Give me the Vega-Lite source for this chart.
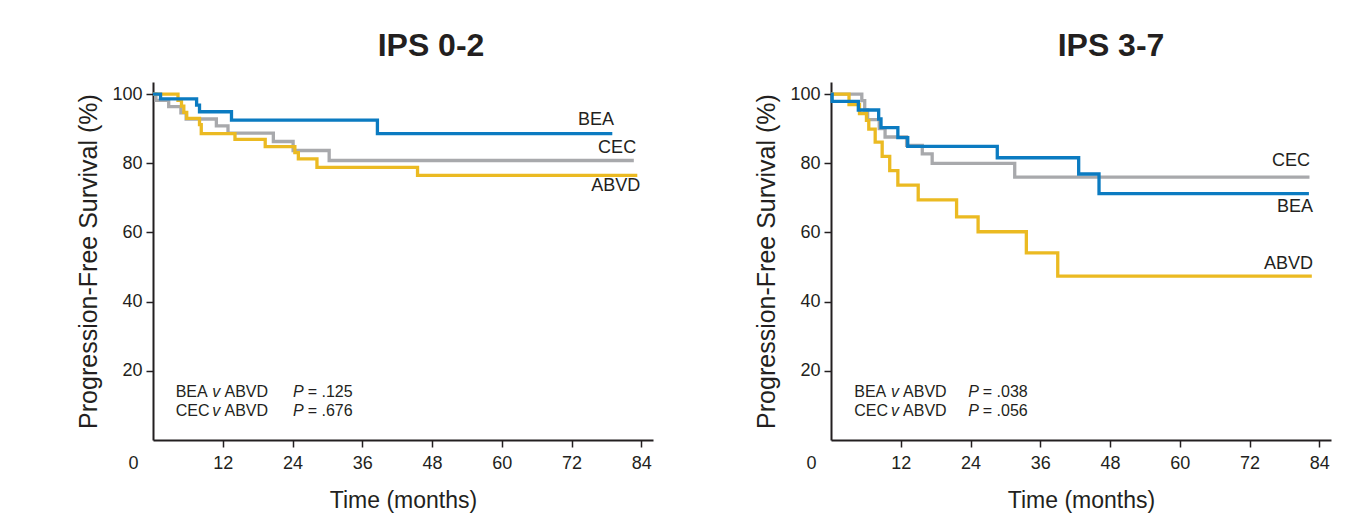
{
  "$schema": "https://vega.github.io/schema/vega-lite/v6.json",
  "background": "white",
  "padding": {"left": 76, "top": 30, "right": 5, "bottom": 5},
  "spacing": 101,
  "config": {
    "view": {"stroke": null},
    "font": "Liberation Sans",
    "axis": {
      "grid": false,
      "domainColor": "#231f20",
      "domainWidth": 2,
      "tickColor": "#231f20",
      "tickWidth": 1.5,
      "tickSize": 7,
      "labelColor": "#231f20",
      "labelFontSize": 18,
      "labelFont": "Liberation Sans",
      "titleFont": "Liberation Sans",
      "titleFontWeight": "normal",
      "titleColor": "#231f20"
    }
  },
  "datasets": {
    "curves": [
      {"panel": "IPS 0-2", "arm": "CEC", "month": 0, "pfs": 100},
      {"panel": "IPS 0-2", "arm": "CEC", "month": 0.5, "pfs": 98.2},
      {"panel": "IPS 0-2", "arm": "CEC", "month": 2.7, "pfs": 96.4},
      {"panel": "IPS 0-2", "arm": "CEC", "month": 4.8, "pfs": 94.6},
      {"panel": "IPS 0-2", "arm": "CEC", "month": 5.7, "pfs": 92.8},
      {"panel": "IPS 0-2", "arm": "CEC", "month": 10.9, "pfs": 90.8},
      {"panel": "IPS 0-2", "arm": "CEC", "month": 12.9, "pfs": 88.7},
      {"panel": "IPS 0-2", "arm": "CEC", "month": 20.7, "pfs": 86.3},
      {"panel": "IPS 0-2", "arm": "CEC", "month": 24.1, "pfs": 83.7},
      {"panel": "IPS 0-2", "arm": "CEC", "month": 30.3, "pfs": 80.8},
      {"panel": "IPS 0-2", "arm": "CEC", "month": 82.7, "pfs": 80.8},
      {"panel": "IPS 0-2", "arm": "ABVD", "month": 0, "pfs": 100},
      {"panel": "IPS 0-2", "arm": "ABVD", "month": 4.3, "pfs": 98.2},
      {"panel": "IPS 0-2", "arm": "ABVD", "month": 4.9, "pfs": 96.5},
      {"panel": "IPS 0-2", "arm": "ABVD", "month": 5.3, "pfs": 94.7},
      {"panel": "IPS 0-2", "arm": "ABVD", "month": 5.8, "pfs": 93.0},
      {"panel": "IPS 0-2", "arm": "ABVD", "month": 8.0, "pfs": 91.2},
      {"panel": "IPS 0-2", "arm": "ABVD", "month": 8.3, "pfs": 88.6},
      {"panel": "IPS 0-2", "arm": "ABVD", "month": 14.1, "pfs": 86.9},
      {"panel": "IPS 0-2", "arm": "ABVD", "month": 19.3, "pfs": 84.8},
      {"panel": "IPS 0-2", "arm": "ABVD", "month": 24.4, "pfs": 83.1},
      {"panel": "IPS 0-2", "arm": "ABVD", "month": 25.0, "pfs": 81.3},
      {"panel": "IPS 0-2", "arm": "ABVD", "month": 28.2, "pfs": 78.8},
      {"panel": "IPS 0-2", "arm": "ABVD", "month": 45.5, "pfs": 76.5},
      {"panel": "IPS 0-2", "arm": "ABVD", "month": 83.3, "pfs": 76.5},
      {"panel": "IPS 0-2", "arm": "BEA", "month": 0, "pfs": 100},
      {"panel": "IPS 0-2", "arm": "BEA", "month": 1.3, "pfs": 98.6},
      {"panel": "IPS 0-2", "arm": "BEA", "month": 7.5, "pfs": 96.8},
      {"panel": "IPS 0-2", "arm": "BEA", "month": 8.0, "pfs": 94.9},
      {"panel": "IPS 0-2", "arm": "BEA", "month": 13.5, "pfs": 92.5},
      {"panel": "IPS 0-2", "arm": "BEA", "month": 38.6, "pfs": 88.6},
      {"panel": "IPS 0-2", "arm": "BEA", "month": 79.0, "pfs": 88.6},
      {"panel": "IPS 3-7", "arm": "CEC", "month": 0, "pfs": 100},
      {"panel": "IPS 3-7", "arm": "CEC", "month": 5.3, "pfs": 98.1},
      {"panel": "IPS 3-7", "arm": "CEC", "month": 5.8, "pfs": 95.4},
      {"panel": "IPS 3-7", "arm": "CEC", "month": 6.3, "pfs": 92.6},
      {"panel": "IPS 3-7", "arm": "CEC", "month": 8.3, "pfs": 90.0},
      {"panel": "IPS 3-7", "arm": "CEC", "month": 9.3, "pfs": 87.6},
      {"panel": "IPS 3-7", "arm": "CEC", "month": 13.0, "pfs": 85.2},
      {"panel": "IPS 3-7", "arm": "CEC", "month": 15.7, "pfs": 82.7},
      {"panel": "IPS 3-7", "arm": "CEC", "month": 17.4, "pfs": 80.0},
      {"panel": "IPS 3-7", "arm": "CEC", "month": 31.6, "pfs": 76.0},
      {"panel": "IPS 3-7", "arm": "CEC", "month": 82.3, "pfs": 76.0},
      {"panel": "IPS 3-7", "arm": "ABVD", "month": 0, "pfs": 100},
      {"panel": "IPS 3-7", "arm": "ABVD", "month": 3.1, "pfs": 97.0},
      {"panel": "IPS 3-7", "arm": "ABVD", "month": 4.9, "pfs": 94.4},
      {"panel": "IPS 3-7", "arm": "ABVD", "month": 6.1, "pfs": 92.4},
      {"panel": "IPS 3-7", "arm": "ABVD", "month": 6.5, "pfs": 89.9},
      {"panel": "IPS 3-7", "arm": "ABVD", "month": 7.6, "pfs": 86.1},
      {"panel": "IPS 3-7", "arm": "ABVD", "month": 8.8, "pfs": 82.0},
      {"panel": "IPS 3-7", "arm": "ABVD", "month": 10.1, "pfs": 77.9},
      {"panel": "IPS 3-7", "arm": "ABVD", "month": 11.5, "pfs": 73.7},
      {"panel": "IPS 3-7", "arm": "ABVD", "month": 15.0, "pfs": 69.4},
      {"panel": "IPS 3-7", "arm": "ABVD", "month": 21.6, "pfs": 64.5},
      {"panel": "IPS 3-7", "arm": "ABVD", "month": 25.3, "pfs": 60.2},
      {"panel": "IPS 3-7", "arm": "ABVD", "month": 33.6, "pfs": 54.1},
      {"panel": "IPS 3-7", "arm": "ABVD", "month": 39.0, "pfs": 47.4},
      {"panel": "IPS 3-7", "arm": "ABVD", "month": 82.7, "pfs": 47.4},
      {"panel": "IPS 3-7", "arm": "BEA", "month": 0, "pfs": 100},
      {"panel": "IPS 3-7", "arm": "BEA", "month": 0.2, "pfs": 97.9},
      {"panel": "IPS 3-7", "arm": "BEA", "month": 4.7, "pfs": 95.4},
      {"panel": "IPS 3-7", "arm": "BEA", "month": 8.2, "pfs": 92.8},
      {"panel": "IPS 3-7", "arm": "BEA", "month": 8.6, "pfs": 90.3},
      {"panel": "IPS 3-7", "arm": "BEA", "month": 11.5, "pfs": 87.4},
      {"panel": "IPS 3-7", "arm": "BEA", "month": 13.2, "pfs": 84.9},
      {"panel": "IPS 3-7", "arm": "BEA", "month": 28.6, "pfs": 81.6},
      {"panel": "IPS 3-7", "arm": "BEA", "month": 42.6, "pfs": 76.9},
      {"panel": "IPS 3-7", "arm": "BEA", "month": 46.1, "pfs": 71.2},
      {"panel": "IPS 3-7", "arm": "BEA", "month": 82.2, "pfs": 71.2}
    ],
    "labels": [
      {"panel": "IPS 0-2", "arm": "BEA", "month": 79.3, "pfs": 92.6},
      {"panel": "IPS 0-2", "arm": "CEC", "month": 83.1, "pfs": 84.4},
      {"panel": "IPS 0-2", "arm": "ABVD", "month": 83.8, "pfs": 73.4},
      {"panel": "IPS 3-7", "arm": "CEC", "month": 82.4, "pfs": 80.8},
      {"panel": "IPS 3-7", "arm": "BEA", "month": 82.9, "pfs": 67.3},
      {"panel": "IPS 3-7", "arm": "ABVD", "month": 82.9, "pfs": 50.9}
    ],
    "notes": [
      {"panel": "IPS 0-2", "text": "BEA", "italic": false, "month": 3.9, "pfs": 14.0},
      {"panel": "IPS 0-2", "text": "v", "italic": true, "month": 10.2, "pfs": 14.0},
      {"panel": "IPS 0-2", "text": "ABVD", "italic": false, "month": 12.3, "pfs": 14.0},
      {"panel": "IPS 0-2", "text": "P", "italic": true, "month": 24.1, "pfs": 14.0},
      {"panel": "IPS 0-2", "text": "= .125", "italic": false, "month": 26.6, "pfs": 14.0},
      {"panel": "IPS 0-2", "text": "CEC", "italic": false, "month": 3.9, "pfs": 8.3},
      {"panel": "IPS 0-2", "text": "v", "italic": true, "month": 10.2, "pfs": 8.3},
      {"panel": "IPS 0-2", "text": "ABVD", "italic": false, "month": 12.3, "pfs": 8.3},
      {"panel": "IPS 0-2", "text": "P", "italic": true, "month": 24.1, "pfs": 8.3},
      {"panel": "IPS 0-2", "text": "= .676", "italic": false, "month": 26.6, "pfs": 8.3},
      {"panel": "IPS 3-7", "text": "BEA", "italic": false, "month": 4.0, "pfs": 14.0},
      {"panel": "IPS 3-7", "text": "v", "italic": true, "month": 10.3, "pfs": 14.0},
      {"panel": "IPS 3-7", "text": "ABVD", "italic": false, "month": 12.4, "pfs": 14.0},
      {"panel": "IPS 3-7", "text": "P", "italic": true, "month": 23.6, "pfs": 14.0},
      {"panel": "IPS 3-7", "text": "= .038", "italic": false, "month": 26.1, "pfs": 14.0},
      {"panel": "IPS 3-7", "text": "CEC", "italic": false, "month": 4.0, "pfs": 8.3},
      {"panel": "IPS 3-7", "text": "v", "italic": true, "month": 10.3, "pfs": 8.3},
      {"panel": "IPS 3-7", "text": "ABVD", "italic": false, "month": 12.4, "pfs": 8.3},
      {"panel": "IPS 3-7", "text": "P", "italic": true, "month": 23.6, "pfs": 8.3},
      {"panel": "IPS 3-7", "text": "= .056", "italic": false, "month": 26.1, "pfs": 8.3}
    ]
  },
  "hconcat": [
    {
      "width": 500,
      "height": 358,
      "title": {"text": "IPS 0-2", "fontSize": 32, "fontWeight": "bold", "anchor": "middle", "dx": 28, "offset": 19, "color": "#231f20", "font": "Liberation Sans"},
      "layer": [
        {
          "data": {"name": "curves"},
          "transform": [{"filter": "datum.panel === 'IPS 0-2'"}],
          "mark": {"type": "line", "interpolate": "step-after", "strokeWidth": 3.3},
          "encoding": {
            "x": {"field": "month", "type": "quantitative", "scale": {"domain": [0, 86], "nice": false},
              "axis": {"values": [0, 12, 24, 36, 48, 60, 72, 84], "title": "Time (months)", "titleFontSize": 23, "titlePadding": 17, "labelPadding": 7, "labelFlush": false,
                "tickOpacity": {"condition": {"test": "datum.value === 0", "value": 0}, "value": 1},
                "labelOffset": {"condition": {"test": "datum.value === 0", "value": -20}, "value": 0}}},
            "y": {"field": "pfs", "type": "quantitative", "scale": {"domain": [0, 103.5], "nice": false},
              "axis": {"values": [20, 40, 60, 80, 100], "title": "Progression-Free Survival (%)", "titleFontSize": 25, "titlePadding": 10, "labelPadding": 4}},
            "color": {"field": "arm", "type": "nominal", "scale": {"domain": ["BEA", "CEC", "ABVD"], "range": ["#0b7bc1", "#a8a9ac", "#ebba22"]}, "legend": null}
          }
        },
        {
          "data": {"name": "labels"},
          "transform": [{"filter": "datum.panel === 'IPS 0-2'"}],
          "mark": {"type": "text", "align": "right", "baseline": "middle", "fontSize": 18, "color": "#231f20"},
          "encoding": {
            "x": {"field": "month", "type": "quantitative"},
            "y": {"field": "pfs", "type": "quantitative"},
            "text": {"field": "arm"}
          }
        },
        {
          "data": {"name": "notes"},
          "transform": [{"filter": "datum.panel === 'IPS 0-2' && !datum.italic"}],
          "mark": {"type": "text", "align": "left", "baseline": "middle", "fontSize": 16, "color": "#231f20"},
          "encoding": {
            "x": {"field": "month", "type": "quantitative"},
            "y": {"field": "pfs", "type": "quantitative"},
            "text": {"field": "text"}
          }
        },
        {
          "data": {"name": "notes"},
          "transform": [{"filter": "datum.panel === 'IPS 0-2' && datum.italic"}],
          "mark": {"type": "text", "align": "left", "baseline": "middle", "fontSize": 16, "fontStyle": "italic", "color": "#231f20"},
          "encoding": {
            "x": {"field": "month", "type": "quantitative"},
            "y": {"field": "pfs", "type": "quantitative"},
            "text": {"field": "text"}
          }
        }
      ]
    },
    {
      "width": 500,
      "height": 358,
      "title": {"text": "IPS 3-7", "fontSize": 32, "fontWeight": "bold", "anchor": "middle", "dx": 30, "offset": 19, "color": "#231f20", "font": "Liberation Sans"},
      "layer": [
        {
          "data": {"name": "curves"},
          "transform": [{"filter": "datum.panel === 'IPS 3-7'"}],
          "mark": {"type": "line", "interpolate": "step-after", "strokeWidth": 3.3},
          "encoding": {
            "x": {"field": "month", "type": "quantitative", "scale": {"domain": [0, 86], "nice": false},
              "axis": {"values": [0, 12, 24, 36, 48, 60, 72, 84], "title": "Time (months)", "titleFontSize": 23, "titlePadding": 17, "labelPadding": 7, "labelFlush": false,
                "tickOpacity": {"condition": {"test": "datum.value === 0", "value": 0}, "value": 1},
                "labelOffset": {"condition": {"test": "datum.value === 0", "value": -20}, "value": 0}}},
            "y": {"field": "pfs", "type": "quantitative", "scale": {"domain": [0, 103.5], "nice": false},
              "axis": {"values": [20, 40, 60, 80, 100], "title": "Progression-Free Survival (%)", "titleFontSize": 25, "titlePadding": 10, "labelPadding": 4}},
            "color": {"field": "arm", "type": "nominal", "scale": {"domain": ["BEA", "CEC", "ABVD"], "range": ["#0b7bc1", "#a8a9ac", "#ebba22"]}, "legend": null}
          }
        },
        {
          "data": {"name": "labels"},
          "transform": [{"filter": "datum.panel === 'IPS 3-7'"}],
          "mark": {"type": "text", "align": "right", "baseline": "middle", "fontSize": 18, "color": "#231f20"},
          "encoding": {
            "x": {"field": "month", "type": "quantitative"},
            "y": {"field": "pfs", "type": "quantitative"},
            "text": {"field": "arm"}
          }
        },
        {
          "data": {"name": "notes"},
          "transform": [{"filter": "datum.panel === 'IPS 3-7' && !datum.italic"}],
          "mark": {"type": "text", "align": "left", "baseline": "middle", "fontSize": 16, "color": "#231f20"},
          "encoding": {
            "x": {"field": "month", "type": "quantitative"},
            "y": {"field": "pfs", "type": "quantitative"},
            "text": {"field": "text"}
          }
        },
        {
          "data": {"name": "notes"},
          "transform": [{"filter": "datum.panel === 'IPS 3-7' && datum.italic"}],
          "mark": {"type": "text", "align": "left", "baseline": "middle", "fontSize": 16, "fontStyle": "italic", "color": "#231f20"},
          "encoding": {
            "x": {"field": "month", "type": "quantitative"},
            "y": {"field": "pfs", "type": "quantitative"},
            "text": {"field": "text"}
          }
        }
      ]
    }
  ]
}
